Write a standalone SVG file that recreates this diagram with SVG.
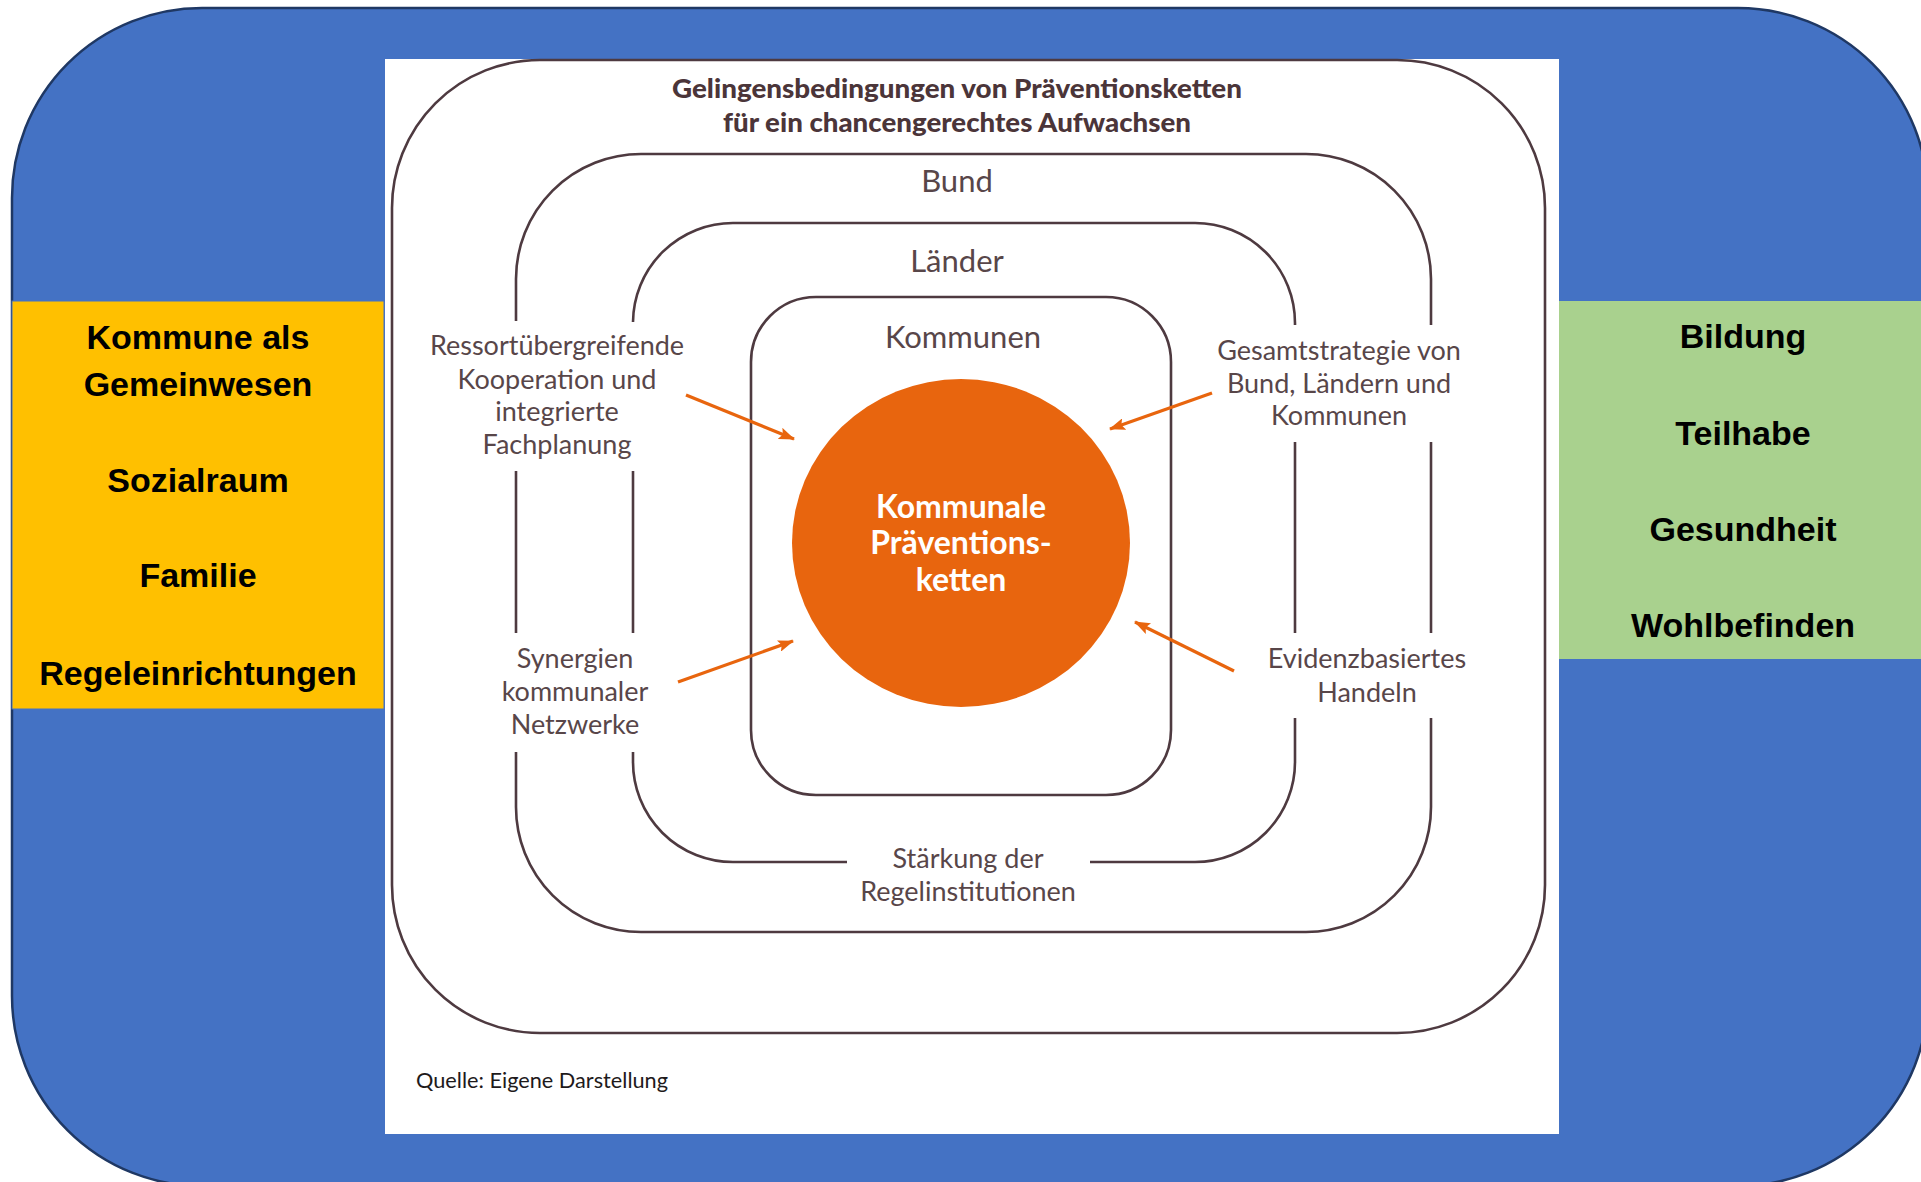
<svg xmlns="http://www.w3.org/2000/svg" width="1921" height="1182" viewBox="0 0 1921 1182">
  <style>
    .side { font-family: "Liberation Sans", Arial, sans-serif; font-weight: bold; font-size: 34px; fill: #000; text-anchor: middle; }
    .title { font-family: Lato, "Noto Sans", sans-serif; font-weight: 900; font-size: 26px; fill: #4b3539; text-anchor: middle; }
    .lvl { font-family: Lato, "Noto Sans", sans-serif; font-size: 31px; fill: #584649; text-anchor: middle; }
    .lbl { font-family: Lato, "Noto Sans", sans-serif; font-size: 27px; fill: #584649; text-anchor: middle; }
    .core { font-family: Lato, "Noto Sans", sans-serif; font-weight: bold; font-size: 32px; fill: #ffffff; text-anchor: middle; }
    .src { font-family: Lato, "Noto Sans", sans-serif; font-size: 22px; fill: #1e1a1b; }
    .frame { fill: none; stroke: #4e3a40; stroke-width: 2.6; }
    .arrow { fill: none; stroke: #e8650e; stroke-width: 3.2; marker-end: url(#head); }
  </style>
  <defs>
    <marker id="head" markerUnits="userSpaceOnUse" markerWidth="16" markerHeight="12" refX="15" refY="6" orient="auto">
      <path d="M0,0 L16,6 L0,12 L3,6 z" fill="#e8650e"/>
    </marker>
  </defs>

  <g id="background">
    <rect x="12" y="8" width="1916" height="1178" rx="190" ry="190" fill="#4472c4" stroke="#1f3864" stroke-width="2.5"/>
  </g>

  <g id="left-box">
    <rect x="12" y="301" width="372" height="408" fill="#ffc000" stroke="#4472c4" stroke-width="1"/>
    <text class="side" x="198" y="349">Kommune als</text>
    <text class="side" x="198" y="396">Gemeinwesen</text>
    <text class="side" x="198" y="492">Sozialraum</text>
    <text class="side" x="198" y="587">Familie</text>
    <text class="side" x="198" y="685">Regeleinrichtungen</text>
  </g>

  <g id="right-box">
    <rect x="1559" y="301" width="370" height="358" fill="#a9d18e"/>
    <text class="side" x="1743" y="348">Bildung</text>
    <text class="side" x="1743" y="445">Teilhabe</text>
    <text class="side" x="1743" y="541">Gesundheit</text>
    <text class="side" x="1743" y="637">Wohlbefinden</text>
  </g>

  <g id="panel">
    <rect x="385" y="59" width="1174" height="1075" fill="#ffffff"/>
  </g>

  <g id="frame-outer">
    <rect class="frame" x="392" y="60" width="1153" height="973" rx="148" ry="148"/>
    <text class="title" x="957" y="98" textLength="570" lengthAdjust="spacingAndGlyphs">Gelingensbedingungen von Präventionsketten</text>
    <text class="title" x="957" y="132" textLength="468" lengthAdjust="spacingAndGlyphs">für ein chancengerechtes Aufwachsen</text>
  </g>

  <g id="frame-bund">
    <path class="frame" d="M516,321 V279 A125,125 0 0 1 641,154 H1306 A125,125 0 0 1 1431,279 V325"/>
    <path class="frame" d="M1431,442 V633"/>
    <path class="frame" d="M1431,718 V807 A125,125 0 0 1 1306,932 H641 A125,125 0 0 1 516,807 V752"/>
    <path class="frame" d="M516,633 V471"/>
    <text class="lvl" x="957" y="192">Bund</text>
  </g>

  <g id="frame-laender">
    <path class="frame" d="M633,322 A100,100 0 0 1 733,223 H1195 A100,100 0 0 1 1295,323 V325"/>
    <path class="frame" d="M1295,442 V633"/>
    <path class="frame" d="M1295,718 V762 A100,100 0 0 1 1195,862 H1090"/>
    <path class="frame" d="M847,862 H733 A100,100 0 0 1 633,762 V752"/>
    <path class="frame" d="M633,633 V471"/>
    <text class="lvl" x="957" y="272">Länder</text>
  </g>

  <g id="frame-kommunen">
    <rect class="frame" x="751" y="297" width="420" height="498" rx="65" ry="65"/>
    <text class="lvl" x="963" y="348">Kommunen</text>
  </g>

  <g id="core">
    <ellipse cx="961" cy="543" rx="169" ry="164" fill="#e8650e"/>
    <text class="core" x="961" y="518">Kommunale</text>
    <text class="core" x="961" y="554">Präventions-</text>
    <text class="core" x="961" y="591">ketten</text>
  </g>

  <g id="label-ressort">
    <text class="lbl" x="557" y="355">Ressortübergreifende</text>
    <text class="lbl" x="557" y="389">Kooperation und</text>
    <text class="lbl" x="557" y="421">integrierte</text>
    <text class="lbl" x="557" y="454">Fachplanung</text>
  </g>

  <g id="label-gesamt">
    <text class="lbl" x="1339" y="360">Gesamtstrategie von</text>
    <text class="lbl" x="1339" y="393">Bund, Ländern und</text>
    <text class="lbl" x="1339" y="425">Kommunen</text>
  </g>

  <g id="label-synergien">
    <text class="lbl" x="575" y="668">Synergien</text>
    <text class="lbl" x="575" y="701">kommunaler</text>
    <text class="lbl" x="575" y="734">Netzwerke</text>
  </g>

  <g id="label-evidenz">
    <text class="lbl" x="1367" y="668">Evidenzbasiertes</text>
    <text class="lbl" x="1367" y="702">Handeln</text>
  </g>

  <g id="label-staerkung">
    <text class="lbl" x="968" y="868">Stärkung der</text>
    <text class="lbl" x="968" y="901">Regelinstitutionen</text>
  </g>

  <g id="source">
    <text class="src" x="416" y="1088" textLength="252" lengthAdjust="spacingAndGlyphs">Quelle: Eigene Darstellung</text>
  </g>

  <g id="connectors">
    <line class="arrow" x1="686" y1="395" x2="794" y2="439"/>
    <line class="arrow" x1="1212" y1="393" x2="1110" y2="429"/>
    <line class="arrow" x1="678" y1="682" x2="793" y2="641"/>
    <line class="arrow" x1="1234" y1="671" x2="1135" y2="622"/>
  </g>
</svg>
